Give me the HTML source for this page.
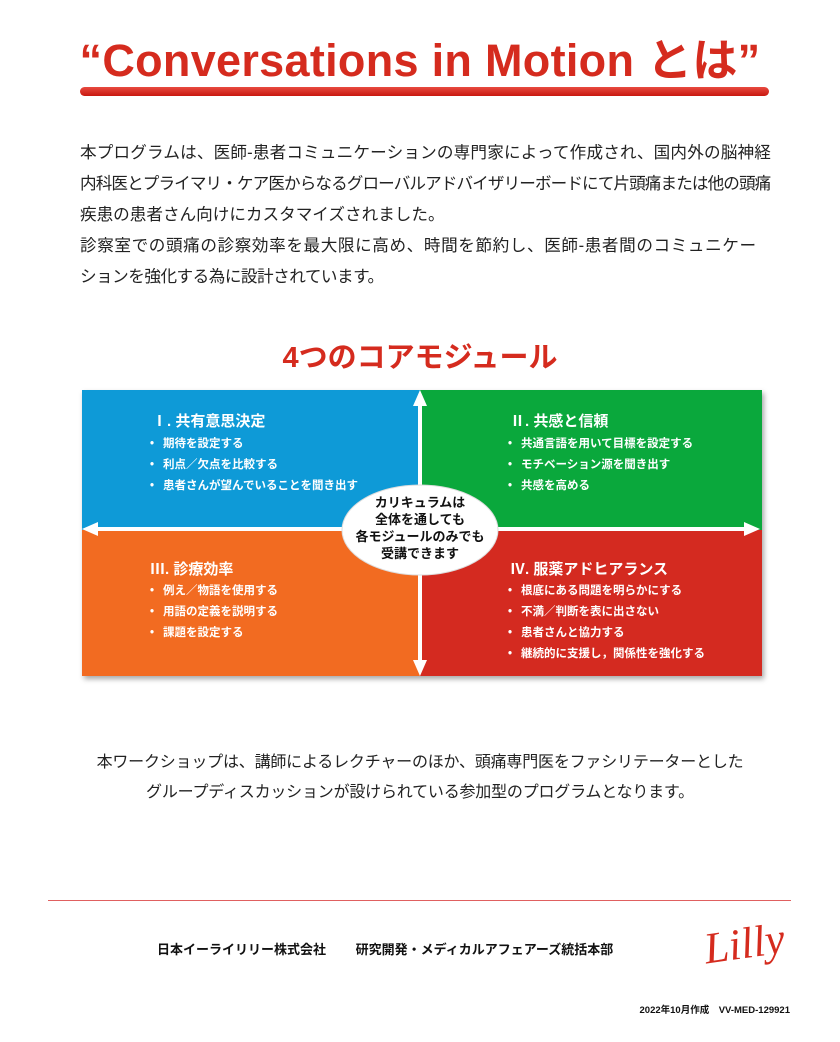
<!DOCTYPE html>
<html><head><meta charset="utf-8"><style>
body{margin:0;width:840px;height:1042px;background:#fff;position:relative;font-family:"Liberation Sans","Noto Sans CJK JP",sans-serif;overflow:hidden}
.a{position:absolute;white-space:nowrap}
.t{left:0;width:840px;text-align:center;top:24px;font-size:45px;font-weight:bold;color:#d52b1e;letter-spacing:0.3px}
.bar{left:80px;top:87px;width:689px;height:9px;border-radius:5px;background:linear-gradient(#e84a40,#c81810);}
.p{left:80px;font-size:16.6px;color:#222;line-height:31px;top:137px}
.p div{height:31px}
.h{left:0;width:840px;text-align:center;top:334px;font-size:29px;font-weight:bold;color:#d52b1e}
.q{position:absolute}
.qt{font-size:15px;font-weight:bold;color:#fff;position:absolute;white-space:nowrap}
.ql{font-size:11.5px;color:#fff;position:absolute;white-space:nowrap;line-height:21px;font-weight:bold}
.ql div:before{content:"•";margin-right:9px}
</style></head><body>
<div class="a t">“Conversations in Motion とは”</div>
<div class="a bar"></div>
<div class="a p">
<div style="letter-spacing:0.17px">本プログラムは、医師-患者コミュニケーションの専門家によって作成され、国内外の脳神経</div>
<div style="letter-spacing:-0.9px">内科医とプライマリ・ケア医からなるグローバルアドバイザリーボードにて片頭痛または他の頭痛</div>
<div>疾患の患者さん向けにカスタマイズされました。</div>
<div style="letter-spacing:0.6px">診察室での頭痛の診察効率を最大限に高め、時間を節約し、医師-患者間のコミュニケー</div>
<div style="letter-spacing:-0.5px">ションを強化する為に設計されています。</div>
</div>
<div class="a h">4つのコアモジュール</div>
<div class="q" style="left:82px;top:390px;width:680px;height:286px;box-shadow:2px 3px 5px rgba(0,0,0,.35)"></div>
<div class="q" style="left:82px;top:390px;width:338px;height:140px;background:#0e9ad7"></div>
<div class="q" style="left:420px;top:390px;width:342px;height:140px;background:#0aa83c"></div>
<div class="q" style="left:82px;top:530px;width:338px;height:146px;background:#f26b21"></div>
<div class="q" style="left:420px;top:530px;width:342px;height:146px;background:#d42a20"></div>
<svg class="q" style="left:80px;top:388px" width="690" height="292">
<line x1="340" y1="12" x2="340" y2="278" stroke="#fff" stroke-width="4"/>
<line x1="14" y1="141" x2="670" y2="141" stroke="#fff" stroke-width="4"/>
<polygon points="340,2 333,18 347,18" fill="#fff"/>
<polygon points="340,288 333,272 347,272" fill="#fff"/>
<polygon points="2,141 18,134 18,148" fill="#fff"/>
<polygon points="680,141 664,134 664,148" fill="#fff"/>
<ellipse cx="340" cy="142" rx="78" ry="45" fill="#fff" stroke="#ddd" stroke-width="1"/>
</svg>
<div class="a" style="left:340px;top:494px;width:160px;text-align:center;font-size:13px;font-weight:bold;line-height:17px;color:#111">カリキュラムは<br>全体を通しても<br>各モジュールのみでも<br>受講できます</div>
<div class="qt" style="left:152px;top:410px">Ⅰ. 共有意思決定</div>
<div class="ql" style="left:150px;top:434px"><div>期待を設定する</div><div>利点／欠点を比較する</div><div>患者さんが望んでいることを聞き出す</div></div>
<div class="qt" style="left:510px;top:410px">Ⅱ. 共感と信頼</div>
<div class="ql" style="left:508px;top:434px"><div>共通言語を用いて目標を設定する</div><div>モチベーション源を聞き出す</div><div>共感を高める</div></div>
<div class="qt" style="left:150px;top:558px">Ⅲ. 診療効率</div>
<div class="ql" style="left:150px;top:581px"><div>例え／物語を使用する</div><div>用語の定義を説明する</div><div>課題を設定する</div></div>
<div class="qt" style="left:510px;top:558px">Ⅳ. 服薬アドヒアランス</div>
<div class="ql" style="left:508px;top:581px"><div>根底にある問題を明らかにする</div><div>不満／判断を表に出さない</div><div>患者さんと協力する</div><div>継続的に支援し，関係性を強化する</div></div>
<div class="a" style="left:0;width:840px;text-align:center;top:748px;font-size:16px;line-height:30px;color:#222;letter-spacing:-0.2px">本ワークショップは、講師によるレクチャーのほか、頭痛専門医をファシリテーターとした<br>グループディスカッションが設けられている参加型のプログラムとなります。</div>
<div class="a" style="left:48px;top:900px;width:743px;height:1px;background:#e06060"></div>
<div class="a" style="left:157px;top:939px;font-size:13px;font-weight:bold;color:#111">日本イーライリリー株式会社　　 研究開発・メディカルアフェアーズ統括本部</div>
<div class="a" style="left:704px;top:918px;font-family:'Liberation Serif',serif;font-style:italic;font-size:44px;color:#d52b1e;transform:rotate(-8deg)">Lilly</div>
<div class="a" style="right:50px;top:1002px;font-size:9.5px;font-weight:bold;color:#111">2022年10月作成　VV-MED-129921</div>
</body></html>
